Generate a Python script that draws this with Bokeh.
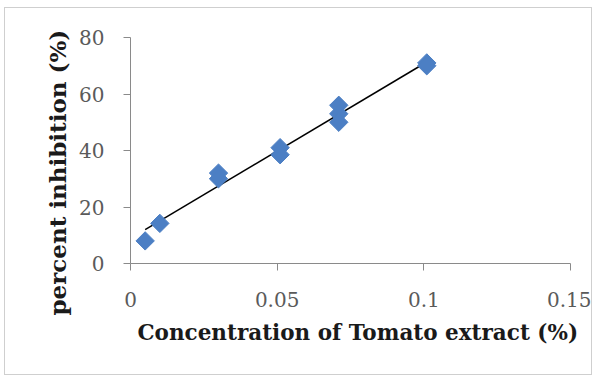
import numpy as np
from bokeh.plotting import figure
from bokeh.models import Range1d, FixedTicker, CustomJSTickFormatter, Title
from bokeh.embed import file_html
from bokeh.resources import INLINE

# data
conc = [0.005, 0.01, 0.03, 0.03, 0.051, 0.051, 0.071, 0.071, 0.071, 0.101, 0.101]
inhibition = [8.0, 14.2, 32.0, 30.0, 41.0, 38.5, 56.0, 53.0, 50.0, 71.0, 70.0]
x_ticks = [0, 0.05, 0.1, 0.15]
y_ticks = [0, 20, 40, 60, 80]
x_title = "Concentration of Tomato extract (%)"
y_title = "percent inhibition (%)"

FONT = "DejaVu Serif"

p = figure(width=588, height=368, output_backend="svg", toolbar_location=None,
           x_range=Range1d(0, 0.15), y_range=Range1d(0, 80),
           min_border_left=125, min_border_right=23, min_border_top=29, min_border_bottom=113)
p.outline_line_color = None
p.grid.visible = False
p.background_fill_color = "white"
p.border_fill_color = "white"
p.styles = {"border": "1px solid #cfcfcf", "margin-left": "4px", "margin-top": "7px"}

# linear trend line (least squares of the data)
slope, intercept = np.polyfit(conc, inhibition, 1)
xs = [min(conc), max(conc)]
p.line(xs, [slope * v + intercept for v in xs], line_color="black", line_width=1.5)

p.scatter(conc, inhibition, marker="square", angle=np.pi / 4, size=13,
          fill_color="#4c7fc4", line_color="#4c7fc4")

for ax in (p.xaxis[0], p.yaxis[0]):
    ax.axis_line_color = "#8a8a8a"
    ax.major_tick_line_color = "#8a8a8a"
    ax.major_tick_out = 7
    ax.major_tick_in = 0
    ax.minor_tick_line_color = None
    ax.major_label_text_font = FONT
    ax.major_label_text_font_size = "20px"
    ax.major_label_text_color = "#5a5a5a"

p.xaxis.ticker = FixedTicker(ticks=x_ticks)
p.yaxis.ticker = FixedTicker(ticks=y_ticks)
p.xaxis.formatter = CustomJSTickFormatter(code="return String(Number(tick.toFixed(3)));")
p.xaxis.major_label_standoff = 21
p.yaxis.major_label_standoff = 19

# axis titles (the reference places them off the frame centre)
p.add_layout(Title(text=x_title, align="left", offset=7, standoff=16,
                   text_font=FONT, text_font_style="bold", text_font_size="21.5px",
                   text_color="#1a1a1a"), "below")
p.add_layout(Title(text=y_title, align="left", offset=-52, standoff=12,
                   text_font=FONT, text_font_style="bold", text_font_size="23px",
                   text_color="#1a1a1a"), "left")

open("out.html", "w").write(file_html(p, INLINE))
